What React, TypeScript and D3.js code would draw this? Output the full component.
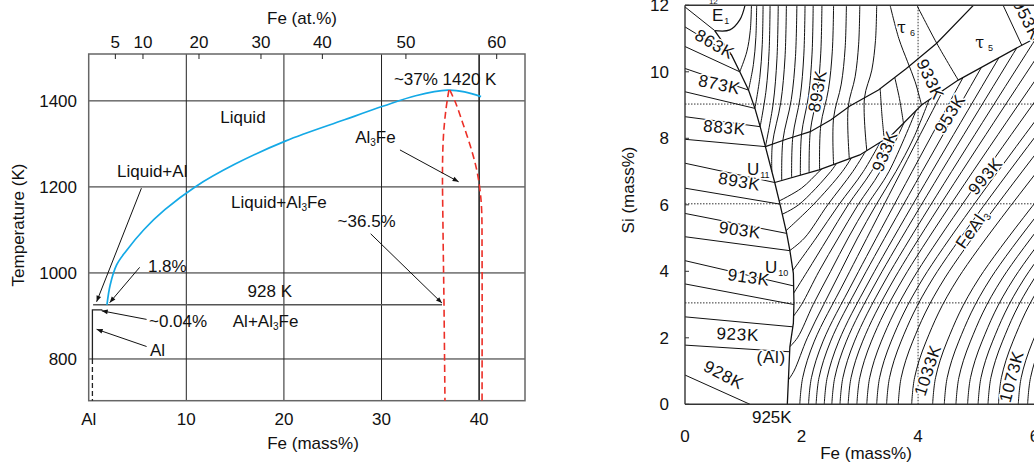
import React from 'react';
import * as d3 from 'd3';

type P = [number, number];

// ---------------- Left panel data (Fe mass% vs T in K) ----------------
const MASS_TICKS = [0, 10, 20, 30, 40];
const MASS_LABELS = ['Al', '10', '20', '30', '40'];
const TEMP_TICKS = [800, 1000, 1200, 1400];
const AT_TICK_POS = [2.73, 5.56, 11.3, 17.65, 23.94, 32.5, 41.8];
const AT_TICK_LABELS = ['5', '10', '20', '30', '40', '50', '60'];
const LIQUIDUS: P[] = [
  [1.87, 926], [2.2, 972], [2.85, 1018], [3.8, 1050], [5.67, 1101], [7.8, 1147], [10.9, 1200],
  [15.0, 1253], [20.2, 1307], [26.2, 1356], [30.2, 1388], [33.5, 1412], [36.8, 1425],
  [38.5, 1421], [40.2, 1410],
];
const AL3FE_LEFT: P[] = [[36.9, 1425], [36.6, 1380], [36.35, 1320], [36.25, 1250], [36.3, 1100], [36.4, 930], [36.5, 703]];
const AL3FE_RIGHT: P[] = [[37.0, 1425], [37.6, 1395], [38.3, 1350], [39.1, 1295], [39.7, 1245], [40.05, 1200], [40.25, 1150], [40.3, 1050], [40.3, 703]];
const EUTECTIC_LINE: P[] = [[0.45, 926], [36.2, 926]];
const AL_SOLVUS: P[] = [[1.4, 914], [0.38, 914], [0.38, 800]];
const AL_SOLVUS_DASH: P[] = [[0.38, 800], [0.38, 703]];
const L_ARROWS: P[][] = [
  [[5.4, 1197], [0.81, 933]],
  [[5.22, 1013], [2.15, 931]],
  [[5.93, 892], [1.33, 912]],
  [[5.93, 829], [0.81, 869]],
  [[28.89, 1091], [36.19, 930]],
  [[31.89, 1286], [37.9, 1212]],
];
const L_TEXTS: { t: string; x: number; T: number; anchor?: string }[] = [
  { t: '~37% 1420 K', x: 31.27, T: 1437 },
  { t: 'Liquid', x: 15.8, T: 1349, anchor: 'middle' },
  { t: 'Al[3]Fe', x: 27.3, T: 1301 },
  { t: 'Liquid+Al', x: 2.9, T: 1224 },
  { t: 'Liquid+Al[3]Fe', x: 14.58, T: 1150 },
  { t: '~36.5%', x: 25.5, T: 1107 },
  { t: '1.8%', x: 6.07, T: 1003 },
  { t: '928 K', x: 16.28, T: 945 },
  { t: '~0.04%', x: 6.18, T: 875 },
  { t: 'Al+Al[3]Fe', x: 14.76, T: 875 },
  { t: 'Al', x: 6.28, T: 807 },
];

// ---------------- Right panel data (Fe mass% vs Si mass%) ----------------
const R_X_TICKS = [0, 2, 4, 6];
const R_Y_TICKS = [0, 2, 4, 6, 8, 10, 12];
const DOTTED_SI = [9.03, 6.03, 3.05];
const DOTTED_FE = [4];

// (Al) primary-field isotherms: left border -> boundary
const AL_ISOTHERMS: P[][] = [
  [[0, 11.95], [0.51, 11.24]],
  [[0, 11.35], [0.8, 10.5]],
  [[0, 10.76], [0.94, 10.0]],
  [[0, 10.1], [1.09, 9.45]],
  [[0, 9.4], [1.2, 8.9]],
  [[0, 8.65], [1.29, 8.35]],
  [[0, 7.97], [1.38, 7.75]],
  [[0, 7.25], [1.54, 6.67]],
  [[0, 6.5], [1.63, 6.02]],
  [[0, 5.74], [1.745, 5.14]],
  [[0, 5.04], [1.8, 4.62]],
  [[0, 4.32], [1.865, 3.56]],
  [[0, 3.62], [1.87, 3.0]],
  [[0, 2.63], [1.85, 2.33]],
  [[0, 1.78], [1.796, 1.58]],
  [[0, 0.88], [1.115, 0]],
];
const BOUNDARY_AL: P[] = [
  [0.51, 11.24], [0.8, 10.5], [0.94, 10.0], [1.09, 9.45], [1.2, 8.9], [1.29, 8.35], [1.38, 7.75],
  [1.54, 6.67], [1.63, 6.02], [1.745, 5.14], [1.8, 4.62], [1.86, 3.94], [1.87, 3.04], [1.86, 2.44],
  [1.8, 1.73], [1.756, 0],
];
const E1_CURVE: P[] = [[0.51, 11.24], [0.77, 11.26], [0.94, 11.56], [1.03, 12]];
const LINE_U: P[] = [[1.38, 7.75], [1.75, 7.98], [2.15, 8.2], [2.5, 8.55], [2.83, 8.97], [3.32, 9.45], [3.8, 10.1], [4.32, 10.86], [4.95, 12]];
const LINE_L: P[] = [[1.54, 6.67], [2.3, 7.05], [3.0, 7.5], [3.55, 8.1], [4.06, 9.0], [4.69, 9.75], [5.78, 10.8], [6.0, 11.0]];

// isotherms in the upper (tau) fields
const TAU_ISOTHERMS: P[][] = [
  [[0.94, 10.0], [1.06, 10.6], [1.12, 11.24], [1.14, 12]],
  [[1.09, 9.45], [1.174, 10.22], [1.216, 11.03], [1.23, 12]],
  [[1.2, 8.9], [1.284, 9.83], [1.326, 10.82], [1.34, 12]],
  [[1.29, 8.35], [1.392, 9.45], [1.443, 10.61], [1.46, 12]],
  [[1.38, 7.75], [1.512, 9.03], [1.578, 10.39], [1.6, 12]],
  [[1.49, 7.0], [1.5, 7.83], [1.644, 9.08], [1.716, 10.42], [1.74, 12]],
  [[1.66, 6.73], [1.68, 7.94], [1.824, 9.16], [1.896, 10.46], [1.92, 12]],
  [[1.83, 6.815], [1.85, 8.04], [1.976, 9.23], [2.039, 10.5], [2.06, 12]],
  [[1.98, 6.89], [2.0, 8.12], [2.12, 9.28], [2.18, 10.53], [2.2, 12]],
  [[2.13, 6.965], [2.15, 8.2], [2.27, 9.34], [2.33, 10.56], [2.35, 12]],
  [[2.31, 7.056], [2.33, 8.38], [2.462, 9.47], [2.528, 10.62], [2.55, 12]],
  [[2.55, 7.21], [2.55, 8.61], [2.682, 9.63], [2.748, 10.71], [2.77, 12]],
  [[2.82, 7.384], [2.8, 8.93], [2.92, 9.85], [2.98, 10.83], [3.0, 12]],
  [[3.12, 7.63], [3.08, 9.21], [3.206, 10.05], [3.269, 10.94], [3.29, 12]],
  [[3.42, 7.96], [3.38, 8.7], [3.35, 9.49]],
  [[3.75, 8.45], [3.68, 9.2], [3.6, 9.83]],
  [[4.06, 9.0], [3.95, 9.7], [3.82, 10.3], [3.67, 11.0], [3.52, 12]],
  [[4.69, 9.75], [4.32, 10.86], [3.98, 12]],
  [[5.78, 10.8], [5.46, 12]],
];

// isotherms in the FeAl3 primary field (clipped by the field outline)
const FEAL3_ISOTHERMS: P[][] = [
  // from the Fe axis
  [[1.97, 0], [2.02, 0.8], [2.22, 1.9], [2.77, 3.8], [5.33, 12.5]],
  [[2.12, 0], [2.17, 0.8], [2.37, 1.9], [2.92, 3.8], [5.6, 12.5]],
  [[2.25, 0], [2.3, 0.8], [2.5, 1.9], [3.05, 3.8], [5.86, 12.5]],
  [[2.39, 0], [2.44, 0.8], [2.64, 1.9], [3.19, 3.8], [6.09, 12.5]],
  [[2.52, 0], [2.57, 0.8], [2.77, 1.9], [3.32, 3.8], [6.32, 12.5]],
  [[2.66, 0], [2.71, 0.8], [2.91, 1.9], [3.46, 3.8], [6.57, 12.5]],
  [[2.8, 0], [2.85, 0.8], [3.05, 1.9], [3.6, 3.8], [6.82, 12.5]],
  [[2.95, 0], [3.0, 0.8], [3.2, 1.9], [3.75, 3.8], [7.1, 12.5]],
  [[3.12, 0], [3.17, 0.8], [3.37, 1.9], [3.92, 3.8], [7.4, 12.5]],
  [[3.29, 0], [3.34, 0.8], [3.54, 1.9], [4.09, 3.8], [7.72, 12.5]],
  [[3.46, 0], [3.51, 0.8], [3.71, 1.9], [4.26, 3.8], [7.96, 12.5]],
  [[3.66, 0], [3.71, 0.8], [3.91, 1.9], [4.46, 3.8], [8.24, 12.5]],
  [[3.89, 0], [3.94, 0.8], [4.14, 1.9], [4.69, 3.8], [8.56, 12.5]],
  [[4.25, 0], [4.3, 0.8], [4.5, 1.9], [5.05, 3.8], [9.01, 12.5]],
  [[4.45, 0], [4.5, 0.8], [4.7, 1.9], [5.25, 3.8], [9.21, 12.5]],
  [[4.65, 0], [4.7, 0.8], [4.9, 1.9], [5.45, 3.8], [9.41, 12.5]],
  [[4.85, 0], [4.9, 0.8], [5.1, 1.9], [5.65, 3.8], [9.61, 12.5]],
  [[5.03, 0], [5.08, 0.8], [5.28, 1.9], [5.83, 3.8], [9.79, 12.5]],
  [[5.2, 0], [5.25, 0.8], [5.45, 1.9], [6.0, 3.8], [9.96, 12.5]],
  [[5.38, 0], [5.43, 0.8], [5.63, 1.9], [6.18, 3.8], [10.14, 12.5]],
  [[5.72, 0], [5.77, 0.8], [5.97, 1.9], [6.52, 3.8]],
  [[5.88, 0], [5.93, 0.8], [6.13, 1.9], [6.68, 3.8]],
  // from the (Al)/FeAl3 boundary up to the FeAl3/tau5 line
  [[1.6, 6.1], [2.0, 6.5], [2.3, 7.0], [2.4, 7.16]],
  [[1.65, 5.7], [1.95, 6.0], [2.5, 7.0], [2.62, 7.3]],
  [[1.72, 5.2], [2.2, 6.0], [2.7, 7.0], [2.88, 7.48]],
  [[1.78, 4.6], [2.05, 5.0], [2.45, 6.0], [2.88, 7.0], [3.13, 7.7]],
  [[1.84, 4.0], [2.25, 5.0], [2.64, 6.0], [3.06, 7.0], [3.38, 7.98]],
  [[1.85, 3.3], [2.1, 4.0], [2.45, 5.0], [2.8, 6.0], [3.2, 7.0], [3.58, 8.2]],
  [[1.84, 2.6], [2.0, 3.0], [2.3, 4.0], [2.63, 5.0], [2.97, 6.0], [3.35, 7.0], [3.78, 8.55]],
  [[1.78, 1.7], [1.93, 2.0], [2.2, 3.0], [2.5, 4.0], [2.8, 5.0], [3.13, 6.0], [3.5, 7.0], [3.98, 8.9]],
  [[1.76, 0.7], [1.87, 1.0], [2.1, 2.0], [2.38, 3.0], [2.67, 4.0], [2.96, 5.0], [3.28, 6.0], [3.62, 7.0], [3.92, 8.0], [4.22, 9.3]],
];

const R_LABELS: { t: string; fe: number; si: number; rot: number }[] = [
  { t: '863K', fe: 0.46, si: 10.68, rot: 30 },
  { t: '873K', fe: 0.57, si: 9.45, rot: 12 },
  { t: '883K', fe: 0.67, si: 8.15, rot: 5 },
  { t: '893K', fe: 0.915, si: 6.53, rot: 10 },
  { t: '903K', fe: 0.93, si: 5.07, rot: 8 },
  { t: '913K', fe: 1.08, si: 3.65, rot: 8 },
  { t: '923K', fe: 0.9, si: 1.93, rot: 3 },
  { t: '928K', fe: 0.62, si: 0.73, rot: 28 },
  { t: '(Al)', fe: 1.48, si: 1.23, rot: 0 },
  { t: '893K', fe: 2.37, si: 9.39, rot: -80 },
  { t: '933K', fe: 4.12, si: 9.7, rot: 65 },
  { t: '933K', fe: 3.52, si: 7.55, rot: -68 },
  { t: '953K', fe: 4.63, si: 8.64, rot: -58 },
  { t: '953K', fe: 5.78, si: 11.5, rot: 63 },
  { t: '993K', fe: 5.23, si: 6.75, rot: -50 },
  { t: 'FeAl[3]', fe: 5.01, si: 5.18, rot: -55 },
  { t: '1033K', fe: 4.26, si: 0.97, rot: -72 },
  { t: '1073K', fe: 5.7, si: 0.79, rot: -75 },
];
const R_POINT_LABELS: { t: string; sub: string; fe: number; si: number; serif?: boolean }[] = [
  { t: 'E', sub: '1', fe: 0.463, si: 11.53 },
  { t: 'U', sub: '11', fe: 1.064, si: 6.9 },
  { t: 'U', sub: '10', fe: 1.373, si: 3.96 },
  { t: 'τ', sub: '6', fe: 3.64, si: 11.17, serif: true },
  { t: 'τ', sub: '5', fe: 4.98, si: 10.72, serif: true },
];

const FF = "'Liberation Sans', Arial, Helvetica, sans-serif";

function rich(t: string, subSize: number, shift: number) {
  const tokens = t.split(/(\[[^\]]*\])/).filter((s) => s.length > 0);
  let down = false;
  return tokens.map((tok, i) => {
    if (tok.startsWith('[')) {
      down = true;
      return (
        <tspan key={i} fontSize={subSize} dy={shift}>
          {tok.slice(1, -1)}
        </tspan>
      );
    }
    const d = down ? -shift : 0;
    down = false;
    return (
      <tspan key={i} dy={d}>
        {tok}
      </tspan>
    );
  });
}

export default function App() {
  // left scales
  const xL = d3.scaleLinear().domain([0, 44.7]).range([88.7, 525]);
  const yL = d3.scaleLinear().domain([703, 1509]).range([400.7, 54]);
  const lineL = d3.line<P>().x((d) => xL(d[0])).y((d) => yL(d[1]));
  const smoothL = d3
    .line<P>()
    .x((d) => xL(d[0]))
    .y((d) => yL(d[1]))
    .curve(d3.curveCatmullRom.alpha(0.5));

  // right scales
  const xR = d3.scaleLinear().domain([0, 6]).range([685, 1034.6]);
  const yR = d3.scaleLinear().domain([0, 12]).range([404.3, 5.3]);
  const lineR = d3.line<P>().x((d) => xR(d[0])).y((d) => yR(d[1]));
  const smoothR = d3
    .line<P>()
    .x((d) => xR(d[0]))
    .y((d) => yR(d[1]))
    .curve(d3.curveCatmullRom.alpha(0.5));

  const lastL = LINE_L[LINE_L.length - 1];
  const feRegion: P[] = [
    ...BOUNDARY_AL.slice(7).reverse(),
    ...LINE_L.slice(1),
    [6.4, lastL[1]],
    [6.4, -0.5],
    [1.756, -0.5],
  ];

  const [xl0, xl1] = xL.domain();
  const [yl0, yl1] = yL.domain();

  return (
    <div style={{ position: 'absolute', left: 0, top: 0 }}>
      <svg width={1034} height={463} viewBox="0 0 1034 463" style={{ display: 'block', background: '#fff' }}>
        <defs>
          <marker id="arr" viewBox="0 0 10 10" refX="10" refY="5" markerWidth="8" markerHeight="6" orient="auto" markerUnits="userSpaceOnUse">
            <path d="M0,1 L10,5 L0,9 z" fill="#111" />
          </marker>
          <clipPath id="plotR">
            <rect x={xR(0)} y={yR(12)} width={xR(6) - xR(0)} height={yR(0) - yR(12)} />
          </clipPath>
          <clipPath id="feReg">
            <path d={(lineR(feRegion) || '') + 'Z'} />
          </clipPath>
        </defs>

        {/* ================= LEFT PANEL ================= */}
        <g fontFamily={FF} fontSize={17} fill="#111">
          {MASS_TICKS.filter((v) => v > 0).map((v) => (
            <line key={'gx' + v} x1={xL(v)} x2={xL(v)} y1={yL(yl1)} y2={yL(yl0)} stroke="#222" strokeWidth={v === 40 ? 1.6 : 1} />
          ))}
          {TEMP_TICKS.map((v) => (
            <line key={'gy' + v} x1={xL(xl0)} x2={xL(xl1)} y1={yL(v)} y2={yL(v)} stroke="#222" strokeWidth={1} />
          ))}
          <rect x={xL(xl0)} y={yL(yl1)} width={xL(xl1) - xL(xl0)} height={yL(yl0) - yL(yl1)} fill="none" stroke="#666" strokeWidth={1.5} />
          {AT_TICK_POS.map((p, i) => (
            <g key={'at' + i}>
              <line x1={xL(p)} x2={xL(p)} y1={yL(yl1)} y2={yL(yl1) + 5} stroke="#222" strokeWidth={1} />
              <text x={xL(p)} y={47.5} textAnchor="middle">
                {AT_TICK_LABELS[i]}
              </text>
            </g>
          ))}
          <text x={302} y={24} textAnchor="middle">Fe (at.%)</text>
          {MASS_TICKS.map((v, i) => (
            <text key={'mx' + v} x={xL(v)} y={425} textAnchor="middle">
              {MASS_LABELS[i]}
            </text>
          ))}
          <text x={313} y={449} textAnchor="middle">Fe (mass%)</text>
          {TEMP_TICKS.map((v) => (
            <text key={'ty' + v} x={77} y={yL(v) + 6} textAnchor="end">
              {v}
            </text>
          ))}
          <text transform="translate(24,225) rotate(-90)" textAnchor="middle">Temperature (K)</text>

          {/* phase lines */}
          <path d={lineL(EUTECTIC_LINE) || ''} fill="none" stroke="#555" strokeWidth={1.4} />
          <path d={lineL(AL_SOLVUS) || ''} fill="none" stroke="#222" strokeWidth={1.3} />
          <path d={lineL(AL_SOLVUS_DASH) || ''} fill="none" stroke="#222" strokeWidth={1.3} strokeDasharray="5 3" />
          <path d={smoothL(LIQUIDUS) || ''} fill="none" stroke="#14a9e6" strokeWidth={1.7} />
          <path d={smoothL(AL3FE_LEFT) || ''} fill="none" stroke="#ec2f27" strokeWidth={1.6} strokeDasharray="7 4" />
          <path d={smoothL(AL3FE_RIGHT) || ''} fill="none" stroke="#ec2f27" strokeWidth={1.6} strokeDasharray="7 4" />
          {L_ARROWS.map((a, i) => (
            <path key={'ar' + i} d={lineL(a) || ''} fill="none" stroke="#111" strokeWidth={1} markerEnd="url(#arr)" />
          ))}
          {L_TEXTS.map((t, i) => (
            <text key={'lt' + i} x={xL(t.x)} y={yL(t.T)} textAnchor={t.anchor || 'start'}>
              {rich(t.t, 10, 3)}
            </text>
          ))}
        </g>

        {/* ================= RIGHT PANEL ================= */}
        <g fontFamily={FF} fontSize={17} fill="#111">
          <g clipPath="url(#plotR)">
            {DOTTED_SI.map((s) => (
              <line key={'ds' + s} x1={xR(0)} x2={xR(6)} y1={yR(s)} y2={yR(s)} stroke="#333" strokeWidth={1} strokeDasharray="1.5 1.5" />
            ))}
            {DOTTED_FE.map((f) => (
              <line key={'df' + f} x1={xR(f)} x2={xR(f)} y1={yR(0)} y2={yR(12)} stroke="#333" strokeWidth={1} strokeDasharray="1.5 1.5" />
            ))}
            <g clipPath="url(#feReg)">
              {FEAL3_ISOTHERMS.map((c, i) => (
                <path key={'fe' + i} d={smoothR(c) || ''} fill="none" stroke="#111" strokeWidth={1} />
              ))}
            </g>
            {TAU_ISOTHERMS.map((c, i) => (
              <path key={'ta' + i} d={smoothR(c) || ''} fill="none" stroke="#111" strokeWidth={1} />
            ))}
            {AL_ISOTHERMS.map((c, i) => (
              <path key={'al' + i} d={lineR(c) || ''} fill="none" stroke="#111" strokeWidth={1} />
            ))}
            <path d={lineR(BOUNDARY_AL) || ''} fill="none" stroke="#111" strokeWidth={1.3} />
            <path d={smoothR(E1_CURVE) || ''} fill="none" stroke="#111" strokeWidth={1.2} />
            <path d={lineR(LINE_U) || ''} fill="none" stroke="#111" strokeWidth={1.2} />
            <path d={lineR(LINE_L) || ''} fill="none" stroke="#111" strokeWidth={1.2} />

            {R_LABELS.map((l, i) => (
              <text
                key={'rl' + i}
                transform={`translate(${xR(l.fe)},${yR(l.si)}) rotate(${l.rot})`}
                textAnchor="middle"
                dy="0.36em"
                letterSpacing={0.7}
                stroke="#fff"
                strokeWidth={3}
                paintOrder="stroke"
                strokeLinejoin="round"
              >
                {rich(l.t, 10, 3)}
              </text>
            ))}
            {R_POINT_LABELS.map((l, i) => (
              <text
                key={'pl' + i}
                x={xR(l.fe)}
                y={yR(l.si)}
                stroke="#fff"
                strokeWidth={3}
                paintOrder="stroke"
                fontFamily={l.serif ? "'DejaVu Serif', serif" : FF}
                fontSize={l.serif ? 16 : 17}
              >
                {l.t}
                <tspan fontSize={9} dx={l.serif ? 4 : 1} dy={3} fontFamily={FF}>
                  {l.sub}
                </tspan>
              </text>
            ))}
          </g>
          <text x={xR(0.41)} y={yR(12.04)} fontSize={8}>12</text>

          {/* frame */}
          <line x1={xR(0)} x2={xR(6)} y1={yR(0)} y2={yR(0)} stroke="#333" strokeWidth={1.4} />
          <line x1={xR(0)} x2={xR(6)} y1={yR(12)} y2={yR(12)} stroke="#333" strokeWidth={1.4} />
          <line x1={xR(0)} x2={xR(0)} y1={yR(0)} y2={yR(12)} stroke="#333" strokeWidth={1.4} />
          {R_Y_TICKS.map((v) => (
            <g key={'ry' + v}>
              <line x1={xR(0)} x2={xR(0) + 4} y1={yR(v)} y2={yR(v)} stroke="#333" strokeWidth={1} />
              <text x={669} y={yR(v) + 6} textAnchor="end">
                {v}
              </text>
            </g>
          ))}
          {R_X_TICKS.map((v) => (
            <text key={'rx' + v} x={xR(v)} y={441.7} textAnchor="middle">
              {v}
            </text>
          ))}
          <text x={xR(1.49)} y={422.7} textAnchor="middle">925K</text>
          <text x={866} y={459} textAnchor="middle">Fe (mass%)</text>
          <text transform="translate(634,190) rotate(-90)" textAnchor="middle">Si (mass%)</text>
        </g>
      </svg>
    </div>
  );
}
